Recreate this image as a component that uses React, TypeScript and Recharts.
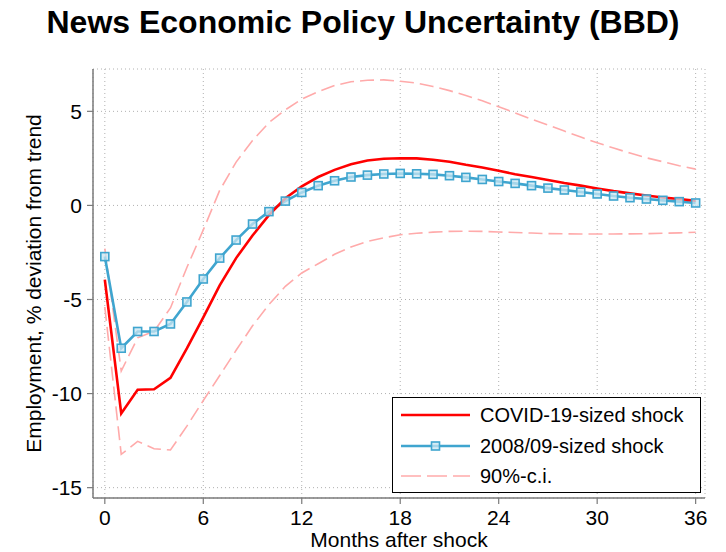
import React from 'react';
import { LineChart, Line, XAxis, YAxis, CartesianGrid } from 'recharts';

const months = [0, 1, 2, 3, 4, 5, 6, 7, 8, 9, 10, 11, 12, 13, 14, 15, 16, 17, 18, 19, 20, 21, 22, 23, 24, 25, 26, 27, 28, 29, 30, 31, 32, 33, 34, 35, 36];

const covidShock = [-3.94, -11.06, -9.8, -9.77, -9.16, -7.6, -5.95, -4.25, -2.8, -1.6, -0.52, 0.38, 1.01, 1.51, 1.89, 2.19, 2.39, 2.48, 2.51, 2.5, 2.43, 2.32, 2.16, 2.02, 1.84, 1.66, 1.51, 1.35, 1.19, 1.05, 0.9, 0.76, 0.64, 0.53, 0.42, 0.34, 0.25];

const gfcShock = [-2.72, -7.59, -6.7, -6.7, -6.3, -5.13, -3.91, -2.8, -1.84, -0.99, -0.33, 0.23, 0.69, 1.05, 1.31, 1.51, 1.61, 1.67, 1.7, 1.68, 1.65, 1.58, 1.49, 1.38, 1.27, 1.17, 1.05, 0.92, 0.82, 0.71, 0.61, 0.5, 0.41, 0.34, 0.27, 0.2, 0.13];

const ciUpper = [-2.3, -8.8, -7.04, -6.69, -5.45, -3.3, -1.3, 0.8, 2.3, 3.45, 4.4, 5.08, 5.65, 6.05, 6.37, 6.57, 6.65, 6.67, 6.6, 6.5, 6.32, 6.1, 5.84, 5.56, 5.24, 4.92, 4.58, 4.27, 3.95, 3.63, 3.33, 3.05, 2.78, 2.53, 2.32, 2.11, 1.93];

const ciLower = [-5.4, -13.23, -12.54, -12.93, -13.0, -11.73, -10.37, -9.04, -7.7, -6.4, -5.27, -4.3, -3.59, -3.1, -2.6, -2.21, -1.91, -1.72, -1.56, -1.48, -1.42, -1.38, -1.37, -1.38, -1.41, -1.44, -1.47, -1.5, -1.51, -1.52, -1.52, -1.52, -1.51, -1.5, -1.48, -1.46, -1.43];

const xTicks = [0, 6, 12, 18, 24, 30, 36];
const yTicks = [-15, -10, -5, 0, 5];

const titleText = 'News Economic Policy Uncertainty (BBD)';
const xLabel = 'Months after shock';
const yLabel = 'Employment, % deviation from trend';
const legendLabels = ['COVID-19-sized shock', '2008/09-sized shock', '90%-c.i.'];

const data = months.map((m, i) => ({
  month: m,
  covid: covidShock[i],
  gfc: gfcShock[i],
  upper: ciUpper[i],
  lower: ciLower[i],
}));

const FONT = '"Liberation Sans", Arial, Helvetica, sans-serif';
const RED = '#ff0000';
const BLUE = '#3fa5cf';
const PINK = '#ffaaaa';
const AXIS = '#7a7a7a';

const SquareDot = (props: any) => {
  const { cx, cy } = props;
  if (cx == null || cy == null) return null;
  const s = 4;
  return (
    <rect
      x={cx - s}
      y={cy - s}
      width={2 * s}
      height={2 * s}
      fill="rgba(200,230,242,0.75)"
      stroke={BLUE}
      strokeWidth={1.6}
    />
  );
};

const YLabel = (props: any) => {
  const vb = props.viewBox || { x: 0, y: 69, width: 93, height: 429 };
  const cx = vb.x + 33;
  const cy = vb.y + vb.height / 2;
  return (
    <text
      x={cx}
      y={cy}
      transform={`rotate(-90 ${cx} ${cy})`}
      textAnchor="middle"
      dominantBaseline="central"
      fontFamily={FONT}
      fontSize={21}
      fill="#000"
    >
      {yLabel}
    </text>
  );
};

const XLabel = (props: any) => {
  const vb = props.viewBox || { x: 93, y: 498, width: 612, height: 54 };
  return (
    <text
      x={vb.x + vb.width / 2}
      y={vb.y + 49}
      textAnchor="middle"
      fontFamily={FONT}
      fontSize={21}
      fill="#000"
    >
      {xLabel}
    </text>
  );
};

const LegendBox = () => {
  const rows = [
    { label: legendLabels[0], color: RED, dash: undefined as string | undefined, width: 2.5, marker: false },
    { label: legendLabels[1], color: BLUE, dash: undefined as string | undefined, width: 2.5, marker: true },
    { label: legendLabels[2], color: PINK, dash: '20 6', width: 1.6, marker: false },
  ];
  return (
    <div
      style={{
        position: 'absolute',
        left: 392,
        top: 397,
        width: 307,
        height: 94,
        border: '1px solid #000',
        background: '#fff',
        fontFamily: FONT,
        fontSize: 20,
        color: '#000',
      }}
    >
      {rows.map((r, i) => (
        <div key={i} style={{ position: 'absolute', left: 0, top: 3 + i * 30.5, height: 28, width: 300 }}>
          <svg width={80} height={28} style={{ position: 'absolute', left: 0, top: 0 }}>
            <line x1={8} x2={77} y1={14} y2={14} stroke={r.color} strokeWidth={r.width} strokeDasharray={r.dash} />
            {r.marker ? (
              <rect x={42.5 - 4} y={14 - 4} width={8} height={8} fill="rgba(200,230,242,0.75)" stroke={BLUE} strokeWidth={1.6} />
            ) : null}
          </svg>
          <div style={{ position: 'absolute', left: 87, top: 0, lineHeight: '28px', whiteSpace: 'nowrap' }}>{r.label}</div>
        </div>
      ))}
    </div>
  );
};

export default function App() {
  return (
    <div style={{ position: 'absolute', left: 0, top: 0, width: 726, height: 552, background: '#fff', overflow: 'hidden' }}>
      <div
        style={{
          position: 'absolute',
          left: 0,
          top: 1,
          width: 726,
          textAlign: 'center',
          fontFamily: FONT,
          fontWeight: 'bold',
          fontSize: 32,
          lineHeight: '42px',
          color: '#000',
        }}
      >
        {titleText}
      </div>
      <LineChart
        width={726}
        height={552}
        data={data}
        margin={{ top: 69, right: 21, left: 0, bottom: 0 }}
        style={{ position: 'absolute', left: 0, top: 0 }}
      >
        <CartesianGrid stroke="#b0b0b0" strokeDasharray="1 3" />
        <XAxis
          dataKey="month"
          type="number"
          domain={[-0.72, 36.57]}
          ticks={xTicks}
          allowDataOverflow
          height={54}
          tickSize={6}
          tickMargin={6}
          stroke={AXIS}
          axisLine={{ stroke: AXIS, strokeWidth: 1.5 }}
          tickLine={{ stroke: AXIS, strokeWidth: 1.2 }}
          tick={{ fill: '#000', fontSize: 21, fontFamily: FONT }}
          label={<XLabel />}
        />
        <YAxis
          type="number"
          domain={[-15.55, 7.25]}
          ticks={yTicks}
          allowDataOverflow
          width={93}
          tickSize={6}
          tickMargin={5}
          stroke={AXIS}
          axisLine={{ stroke: AXIS, strokeWidth: 1.5 }}
          tickLine={{ stroke: AXIS, strokeWidth: 1.2 }}
          tick={{ fill: '#000', fontSize: 21, fontFamily: FONT }}
          label={<YLabel />}
        />
        <Line type="linear" dataKey="upper" stroke={PINK} strokeWidth={1.6} strokeDasharray="14 6" dot={false} isAnimationActive={false} />
        <Line type="linear" dataKey="lower" stroke={PINK} strokeWidth={1.6} strokeDasharray="14 6" dot={false} isAnimationActive={false} />
        <Line type="linear" dataKey="gfc" stroke={BLUE} strokeWidth={2.6} dot={<SquareDot />} isAnimationActive={false} />
        <Line type="linear" dataKey="covid" stroke={RED} strokeWidth={2.6} dot={false} isAnimationActive={false} />
      </LineChart>
      <LegendBox />
    </div>
  );
}
